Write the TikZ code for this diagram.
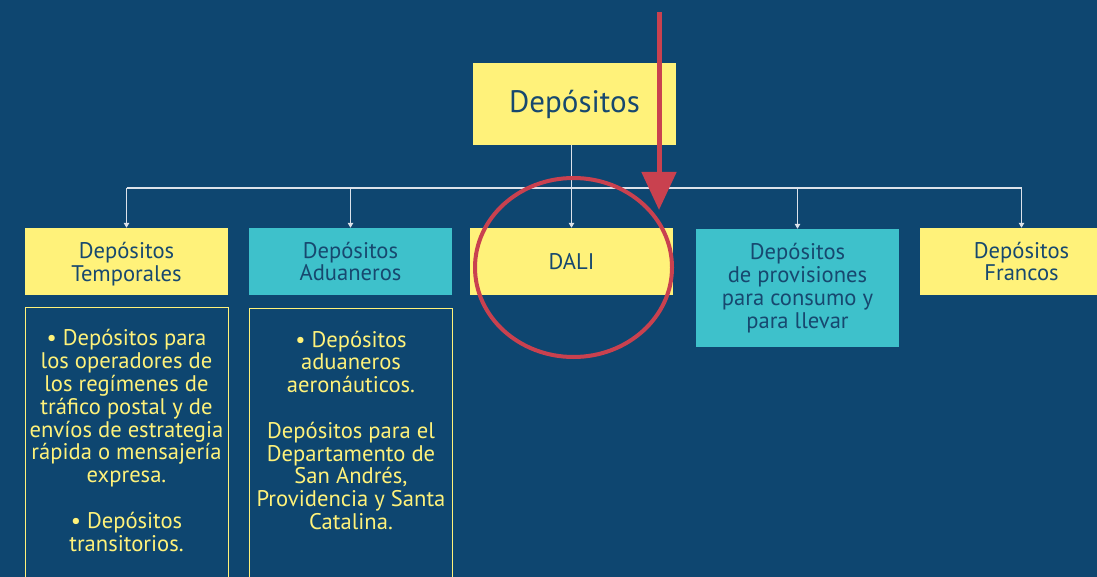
\documentclass[tikz,border=0pt]{standalone}
\usepackage{fontspec}
\setmainfont{PT Sans}
\usetikzlibrary{arrows.meta,shapes.geometric}
\definecolor{navy}{HTML}{0E4670}
\definecolor{dyellow}{HTML}{FFF27A}
\definecolor{dcyan}{HTML}{3EC1CB}
\definecolor{dred}{HTML}{C9414F}
\definecolor{boxtext}{HTML}{17486F}
\definecolor{lineclr}{HTML}{DCE2EA}
\begin{document}
\begin{tikzpicture}[x=1pt,y=-1pt,
  box/.style={rectangle, inner sep=0pt, minimum width=203pt, minimum height=67pt,
    text=boxtext, align=center, font=\fontsize{22.6}{22.8}\selectfont},
  ybox/.style={box, fill=dyellow},
  cbox/.style={box, fill=dcyan},
  outbox/.style={rectangle, draw=dyellow, line width=1pt, inner sep=0pt,
    minimum width=203pt, minimum height=300pt},
  bodytext/.style={text=dyellow, align=center, inner sep=0pt,
    font=\fontsize{22.6}{22.8}\selectfont},
  conn/.style={draw=lineclr, line width=1.1pt},
  connarrow/.style={conn, -{Triangle[width=5.5pt,length=5pt]}},
  redarrow/.style={draw=dred, line width=5pt, -{Triangle[width=34pt,length=38pt]}},
  ring/.style={ellipse, draw=dred, line width=4pt, inner sep=0pt}
]
\useasboundingbox (0,0) rectangle (1097,577);
\clip (0,0) rectangle (1097,577);
\fill[navy] (0,0) rectangle (1097,577);

% top box
\node[ybox, minimum height=82pt, font=\fontsize{31}{33}\selectfont] (dep) at (574.5,104) {Depósitos};

% second row
\node[ybox, text depth=0pt] (temp) at (126.5,261.5) {Depósitos\\Temporales};
\node[cbox] (adu) at (350.5,261.5) {Depósitos\\Aduaneros};
\node[ybox] (dali) at (571.5,261.5) {DALI};
\node[cbox, minimum height=118pt] (prov) at (797.5,288) {Depósitos\\de provisiones\\para consumo y\\para llevar};
\node[ybox] (fran) at (1021.5,261.5) {Depósitos\\Francos};

% outlined detail boxes
\node[outbox, anchor=north] (tempd) at (126.5,307) {};
\node[outbox, anchor=north] (adud) at (351,308) {};
\node[bodytext, anchor=base] (temptext) at (126.5,551) {• Depósitos para\\los operadores de\\los regímenes de\\tráfico postal y de\\envíos de estrategia\\rápida o mensajería\\expresa.\\[22.8pt]• Depósitos\\transitorios.};
\node[bodytext, anchor=base] (adutext) at (351,529.5) {• Depósitos\\aduaneros\\aeronáuticos.\\[22.8pt]Depósitos para el\\Departamento de\\San Andrés,\\Providencia y Santa\\Catalina.};

% connectors
\coordinate (bar) at (0,188);
\draw[conn] (temp.north |- bar) -- (fran.north |- bar);
\draw[conn] (dali.north |- dep.south) -- (dali.north |- bar);
\foreach \n in {temp,adu,dali,prov,fran}
  \draw[connarrow] (\n.north |- bar) -- (\n.north);

% red highlight
\node[ring, minimum width=197pt, minimum height=179pt] (hl) at (573.5,267.5) {};
\coordinate (rtop) at (659,12);
\coordinate (rtip) at (659,210);
\draw[redarrow] (rtop) -- (rtip);
\end{tikzpicture}
\end{document}
